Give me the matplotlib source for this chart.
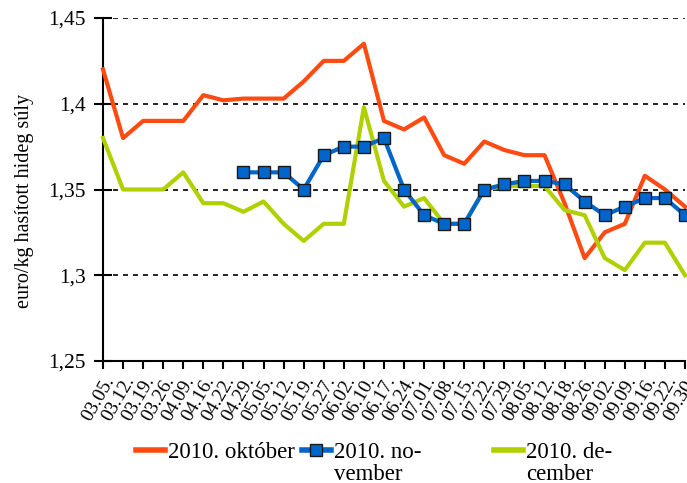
import matplotlib
matplotlib.use("Agg")
import matplotlib.pyplot as plt
from matplotlib.lines import Line2D
import numpy as np

dates = ["03.05.", "03.12.", "03.19.", "03.26.", "04.09.", "04.16.", "04.22.", "04.29.",
         "05.05.", "05.12.", "05.19.", "05.27.", "06.02.", "06.10.", "06.17.", "06.24.",
         "07.01.", "07.08.", "07.15.", "07.22.", "07.29.", "08.05.", "08.12.", "08.18.",
         "08.26.", "09.02.", "09.09.", "09.16.", "09.22.", "09.30."]

oktober = [1.420, 1.380, 1.390, 1.390, 1.390, 1.405, 1.402, 1.403, 1.403, 1.403,
           1.413, 1.425, 1.425, 1.435, 1.390, 1.385, 1.392, 1.370, 1.365, 1.378,
           1.373, 1.370, 1.370, 1.342, 1.310, 1.325, 1.330, 1.358, 1.350, 1.340]
november = [None, None, None, None, None, None, None, 1.360, 1.360, 1.360,
            1.350, 1.370, 1.375, 1.375, 1.380, 1.350, 1.335, 1.330, 1.330, 1.350,
            1.353, 1.355, 1.355, 1.353, 1.343, 1.335, 1.340, 1.345, 1.345, 1.335]
december = [1.380, 1.350, 1.350, 1.350, 1.360, 1.342, 1.342, 1.337, 1.343, 1.330,
            1.320, 1.330, 1.330, 1.398, 1.355, 1.340, 1.345, 1.330, 1.330, 1.350,
            1.352, 1.352, 1.352, 1.338, 1.335, 1.310, 1.303, 1.319, 1.319, 1.300]

yticks = [1.25, 1.30, 1.35, 1.40, 1.45]
ytick_labels = ["1,25", "1,3", "1,35", "1,4", "1,45"]
labels = ["2010. október", "2010. no-", "2010. de-"]
label_second = ["", "vember", "cember"]
ylabel = "euro/kg hasított hideg súly"

c_ok = "#FF4A12"
c_nov = "#0066CC"
c_dec = "#B0D000"

plt.rcParams['font.family'] = ['Liberation Serif', 'DejaVu Serif']

fig = plt.figure(figsize=(6.87, 4.83), dpi=100)
ax = fig.add_axes([103/687, 1-361/483, (685-103)/687, (361-18)/483])

x = np.arange(len(dates))
nov = np.array([np.nan if v is None else v for v in november], dtype=float)

ax.plot(x, oktober, color=c_ok, lw=3.0, clip_on=False, zorder=3)
ax.plot(x, nov, color=c_nov, lw=3.0, marker='s', markersize=9, markerfacecolor=c_nov,
        markeredgecolor='#1a1a1a', markeredgewidth=1.0, clip_on=False, zorder=4)
ax.plot(x, december, color=c_dec, lw=3.0, clip_on=False, zorder=3)

ax.set_xlim(0, len(dates) - 1)
ax.set_ylim(1.25, 1.45)
ax.set_yticks(yticks)
ax.set_yticklabels(ytick_labels, fontsize=15.5)
for yv in yticks[1:]:
    ax.axhline(yv, color='black', lw=1.2, ls=(0, (3, 3)), zorder=1)

ax.set_xticks(x)
ax.set_xticklabels(dates, rotation=60, ha='right', va='top', rotation_mode='anchor', fontsize=14)
ax.tick_params(axis='x', direction='out', length=6, width=1.5, pad=3)
ax.tick_params(axis='y', direction='inout', length=13, width=1.5, pad=6)

for s in ['top', 'right']:
    ax.spines[s].set_visible(False)
for s in ['left', 'bottom']:
    ax.spines[s].set_linewidth(1.5)

ax.set_ylabel(ylabel, fontsize=14.5)
ax.yaxis.set_label_coords((34 - 103) / 582, (361 - 201) / 343)

handles = [Line2D([], [], color=c_ok, lw=4),
           Line2D([], [], color=c_nov, lw=4, marker='s', markersize=9,
                  markerfacecolor=c_nov, markeredgecolor='#1a1a1a'),
           Line2D([], [], color=c_dec, lw=4)]
starts = [136, 302, 494]
legs = []
for h, lab, sx in zip(handles, labels, starts):
    lg = fig.legend([h], [lab], loc='center left', bbox_to_anchor=(sx / 687, 1 - 452 / 483),
                    frameon=False, fontsize=16.5, handlelength=1.25,
                    handletextpad=0.15, borderpad=0, borderaxespad=0)
    legs.append(lg)

fig.canvas.draw()
r = fig.canvas.get_renderer()
for lg, extra in zip(legs, label_second):
    if extra:
        t = lg.get_texts()[0]
        bb = t.get_window_extent(r)
        fig.text(bb.x0 / fig.bbox.width, (bb.y0 - 1) / fig.bbox.height, extra,
                 fontsize=16.5, ha='left', va='top')

fig.savefig("out.png", dpi=100)
